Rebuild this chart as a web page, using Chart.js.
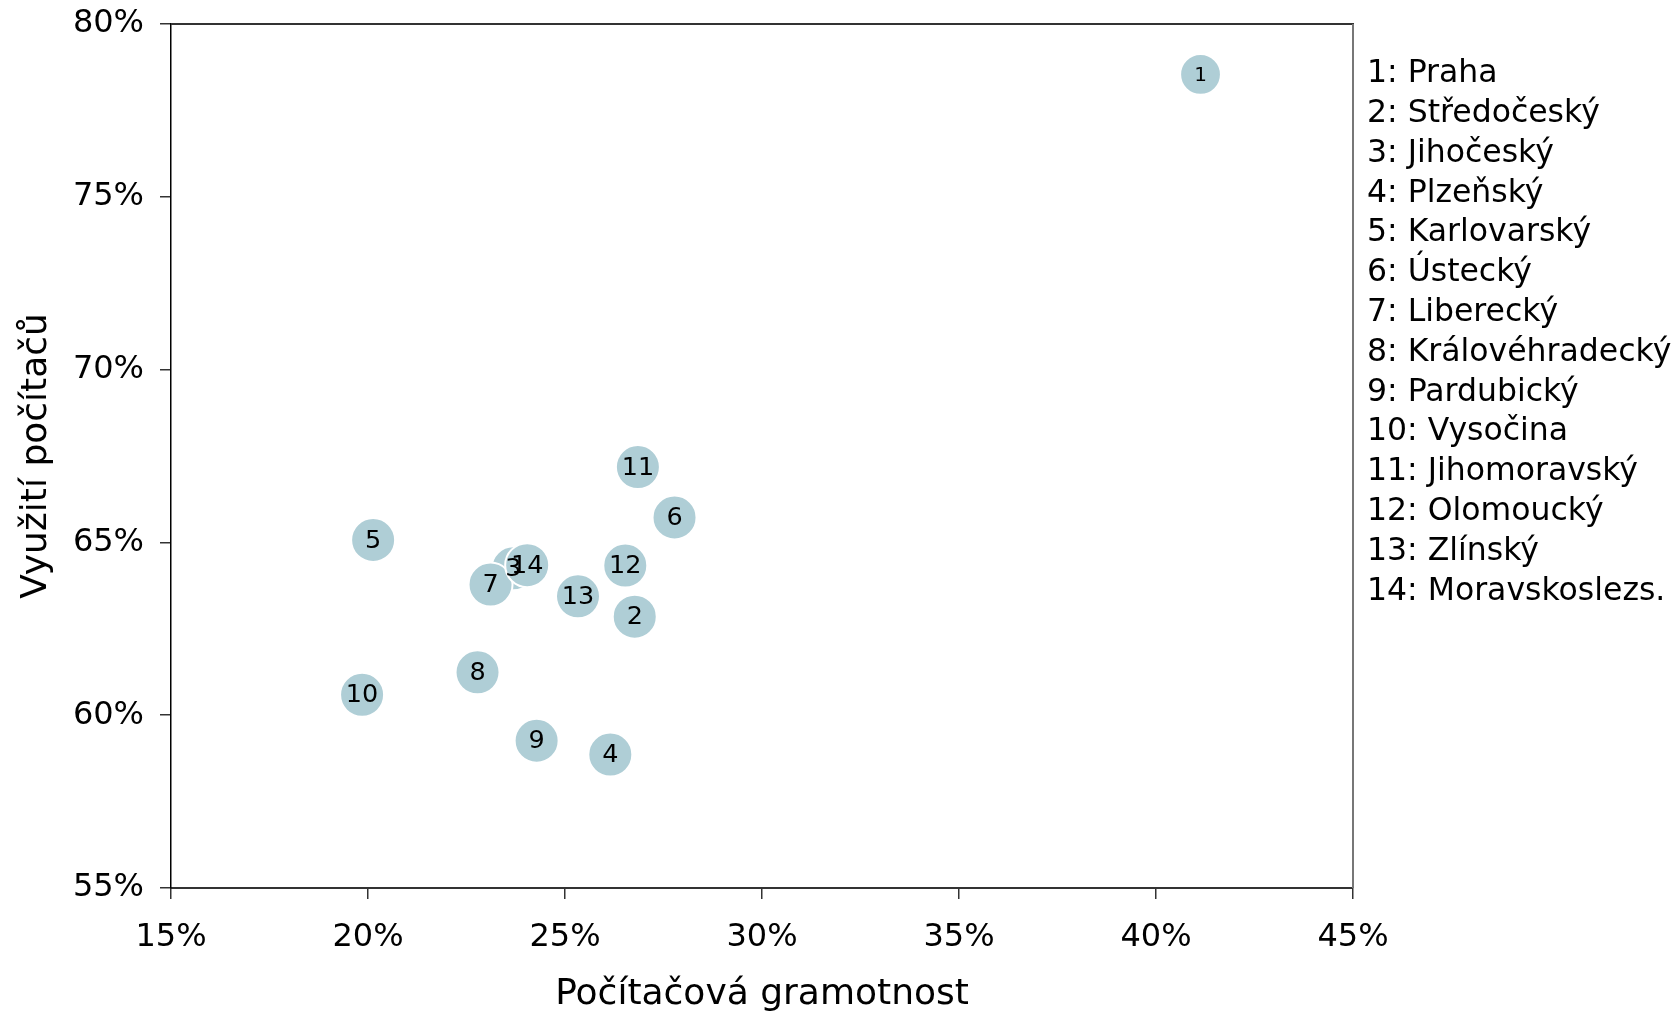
<!DOCTYPE html>
<html>
<head>
<meta charset="utf-8">
<script src="https://cdn.jsdelivr.net/npm/chart.js@4/dist/chart.umd.min.js"></script>
<style>
  html, body { margin: 0; padding: 0; background: #ffffff; }
  #wrap { width: 1675px; height: 1011px; }
</style>
</head>
<body>
<div id="wrap"><canvas id="c" width="1675" height="1011"></canvas></div>
<script>
// ---- data ----
const regionIds = ['1','2','3','4','5','6','7','8','9','10','11','12','13','14'];
const regionNames = ['Praha','Středočeský','Jihočeský','Plzeňský','Karlovarský','Ústecký','Liberecký',
  'Královéhradecký','Pardubický','Vysočina','Jihomoravský','Olomoucký','Zlínský','Moravskoslezs.'];
const computerLiteracy = [41.13, 26.77, 23.69, 26.15, 20.13, 27.78, 23.11, 22.78, 24.28, 19.85, 26.85, 26.53, 25.33, 24.04];
const computerUse      = [78.54, 62.85, 64.25, 58.86, 65.07, 65.72, 63.78, 61.24, 59.26, 60.59, 67.18, 64.33, 63.44, 64.34];
const xTicks = [15, 20, 25, 30, 35, 40, 45];
const yTicks = [55, 60, 65, 70, 75, 80];
const xTitle = 'Počítačová gramotnost';
const yTitle = 'Využití počítačů';

// ---- style ----
const FONT = "'DejaVu Sans', Verdana, sans-serif";
const PLOT = { left: 171, right: 1353, top: 24, bottom: 888 };
const W = 1675, H = 1011;

const points = computerLiteracy.map((x, i) => ({ x: x, y: computerUse[i] }));

const labelPlugin = {
  id: 'bubbleLabels',
  afterDatasetsDraw(chart) {
    const ctx = chart.ctx;
    const meta = chart.getDatasetMeta(0);
    ctx.save();
    ctx.fillStyle = '#000';
    ctx.textAlign = 'center';
    ctx.textBaseline = 'middle';
    meta.data.forEach((el, i) => {
      const size = i === 0 ? 20 : 25.5;
      ctx.font = size + 'px ' + FONT;
      ctx.fillText(regionIds[i], el.x, el.y + 1);
    });
    ctx.restore();
  }
};

const framePlugin = {
  id: 'frame',
  afterDraw(chart) {
    const ctx = chart.ctx;
    const a = chart.chartArea;
    ctx.save();
    // top border
    ctx.strokeStyle = '#333';
    ctx.lineWidth = 2;
    ctx.beginPath();
    ctx.moveTo(a.left, a.top);
    ctx.lineTo(a.right + 1, a.top);
    ctx.stroke();
    // right border
    ctx.strokeStyle = '#777';
    ctx.beginPath();
    ctx.moveTo(a.right, a.top);
    ctx.lineTo(a.right, a.bottom);
    ctx.stroke();
    // legend text
    ctx.fillStyle = '#000';
    ctx.font = '31.5px ' + FONT;
    ctx.textAlign = 'left';
    ctx.textBaseline = 'middle';
    regionNames.forEach((n, i) => {
      ctx.fillText(regionIds[i] + ': ' + n, 1367, 74 + i * 39.8);
    });
    ctx.restore();
  }
};

function zeroPad(s) { s.paddingTop = 0; s.paddingBottom = 0; s.paddingLeft = 0; s.paddingRight = 0; }

new Chart(document.getElementById('c'), {
  type: 'scatter',
  data: {
    datasets: [{
      data: points,
      backgroundColor: 'rgb(175,206,214)',
      borderColor: '#ffffff',
      borderWidth: 2,
      pointRadius: (c) => c.dataIndex === 0 ? 20.4 : 22,
      pointHoverRadius: (c) => c.dataIndex === 0 ? 20.4 : 22
    }]
  },
  options: {
    responsive: false,
    animation: false,
    events: [],
    layout: { padding: { left: 0, right: W - PLOT.right, top: PLOT.top, bottom: 0 } },
    plugins: { legend: { display: false }, tooltip: { enabled: false }, title: { display: false } },
    scales: {
      x: {
        type: 'linear',
        min: xTicks[0], max: xTicks[xTicks.length - 1],
        afterFit: (s) => { s.height = H - PLOT.bottom; zeroPad(s); },
        afterBuildTicks: (s) => { s.ticks = xTicks.map(v => ({ value: v })); },
        ticks: {
          font: { family: FONT, size: 32 }, color: '#000', padding: 19,
          callback: (v) => v + '%', maxRotation: 0
        },
        grid: { drawOnChartArea: false, drawTicks: true, tickLength: 11, color: '#333', lineWidth: 1.5 },
        border: { display: true, color: '#333', width: 2 },
        title: { display: true, text: xTitle, font: { family: FONT, size: 36 }, color: '#000', padding: { top: 0, bottom: -5 } }
      },
      y: {
        type: 'linear',
        min: yTicks[0], max: yTicks[yTicks.length - 1],
        afterFit: (s) => { s.width = PLOT.left; zeroPad(s); },
        afterBuildTicks: (s) => { s.ticks = yTicks.map(v => ({ value: v })); },
        ticks: {
          font: { family: FONT, size: 32 }, color: '#000', padding: 16,
          callback: (v) => v + '%'
        },
        grid: { drawOnChartArea: false, drawTicks: true, tickLength: 11, color: '#333', lineWidth: 1.5 },
        border: { display: true, color: '#000', width: 1.5 },
        title: { display: true, text: yTitle, font: { family: FONT, size: 36 }, color: '#000', padding: { top: 15, bottom: 0 } }
      }
    }
  },
  plugins: [labelPlugin, framePlugin]
});
</script>
</body>
</html>
